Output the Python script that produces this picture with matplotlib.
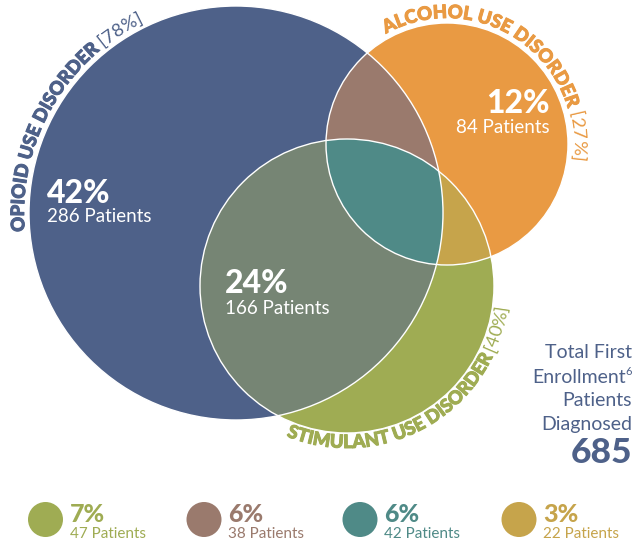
import numpy as np
import matplotlib
matplotlib.use("Agg")
import matplotlib.pyplot as plt
import matplotlib.patheffects as pe
from matplotlib.patches import Circle, Polygon
from matplotlib import font_manager, ft2font
from matplotlib.font_manager import FontProperties

# ---------------- data ----------------
set_names = ["OPIOID USE DISORDER", "ALCOHOL USE DISORDER", "STIMULANT USE DISORDER"]
set_pct = [78, 27, 40]
region_keys = ["O", "A", "S", "OA", "OS", "AS", "OAS"]
region_pct = [42, 12, 7, 6, 24, 3, 6]
region_n = [286, 84, 47, 38, 166, 22, 42]
total_patients = 685
total_label = ["Total First", "Enrollment", "Patients", "Diagnosed"]
footnote = "6"
legend_keys = ["S", "OA", "OAS", "AS"]

colors = {
    "O": "#4e6189", "A": "#e99a43", "S": "#9fac53",
    "OA": "#9a7a6d", "OS": "#768574", "AS": "#c6a44b", "OAS": "#4f8a87",
}
pct = dict(zip(region_keys, region_pct))
cnt = dict(zip(region_keys, region_n))

# ---------------- layout (pixels, y down) ----------------
W, H = 637, 543
cO, rO = (236.0, 213.0), 207.0
cA, rA = (447.0, 144.0), 121.0
cS, rS = (347.0, 286.0), 147.0

fig = plt.figure(figsize=(W / 100, H / 100), dpi=100)
ax = fig.add_axes([0, 0, 1, 1])
ax.set_xlim(0, W)
ax.set_ylim(H, 0)
ax.axis("off")

FAM = ["Lato", "DejaVu Sans"]


def fp(size, weight="normal"):
    return FontProperties(family=FAM, size=size, weight=weight)


def lens(c1, r1, c2, r2, n=300):
    c1 = np.array(c1); c2 = np.array(c2)
    dv = c2 - c1
    d = np.hypot(*dv)
    a = (r1 ** 2 - r2 ** 2 + d ** 2) / (2 * d)
    alpha = np.arccos(np.clip(a / r1, -1, 1))
    beta = np.arccos(np.clip((d - a) / r2, -1, 1))
    th = np.arctan2(dv[1], dv[0])
    ph = th + np.pi
    t1 = np.linspace(th - alpha, th + alpha, n)
    t2 = np.linspace(ph - beta, ph + beta, n)
    p1 = np.column_stack([c1[0] + r1 * np.cos(t1), c1[1] + r1 * np.sin(t1)])
    p2 = np.column_stack([c2[0] + r2 * np.cos(t2), c2[1] + r2 * np.sin(t2)])
    return np.vstack([p1, p2])


# base circles
ax.add_patch(Circle(cO, rO, facecolor=colors["O"], edgecolor="none", zorder=1))
ax.add_patch(Circle(cA, rA, facecolor=colors["A"], edgecolor="none", zorder=1))
ax.add_patch(Circle(cS, rS, facecolor=colors["S"], edgecolor="none", zorder=1))
# pairwise overlaps
ax.add_patch(Polygon(lens(cO, rO, cA, rA), closed=True, facecolor=colors["OA"], edgecolor="none", zorder=2))
ax.add_patch(Polygon(lens(cO, rO, cS, rS), closed=True, facecolor=colors["OS"], edgecolor="none", zorder=2))
ax.add_patch(Polygon(lens(cA, rA, cS, rS), closed=True, facecolor=colors["AS"], edgecolor="none", zorder=2))
# triple overlap
clipO = Circle(cO, rO, transform=ax.transData)
triple = Polygon(lens(cA, rA, cS, rS), closed=True, facecolor=colors["OAS"], edgecolor="none", zorder=3)
ax.add_patch(triple)
triple.set_clip_path(clipO)
# white outlines
for c, r in [(cO, rO), (cA, rA), (cS, rS)]:
    ax.add_patch(Circle(c, r, fill=False, edgecolor="white", lw=1.0, zorder=4))


# ---------------- curved labels ----------------
def advances(s, prop):
    path = font_manager.findfont(prop)
    f = ft2font.FT2Font(path)
    f.set_size(prop.get_size_in_points(), 100)
    try:
        flags = ft2font.LoadFlags.NO_HINTING
    except AttributeError:
        flags = ft2font.LOAD_NO_HINTING
    out = []
    for ch in s:
        g = f.load_char(ord(ch), flags=flags)
        out.append(g.linearHoriAdvance / 65536.0)
    return out


def arc_text(segments, center, R, t0_deg, direction):
    cx, cy = center
    s = 0.0
    t0 = np.radians(t0_deg)
    for text, prop, color, stroke in segments:
        adv = advances(text, prop)
        for ch, a in zip(text, adv):
            mid = s + a / 2
            t = t0 + direction * mid / R
            x = cx + R * np.cos(t)
            y = cy + R * np.sin(t)
            if direction > 0:
                rot = np.degrees(np.arctan2(-np.cos(t), -np.sin(t)))
            else:
                rot = np.degrees(np.arctan2(np.cos(t), np.sin(t)))
            if ch != " ":
                txt = ax.text(x, y, ch, fontproperties=prop, color=color, rotation=rot,
                              rotation_mode="anchor", ha="center", va="baseline", zorder=5)
                if stroke:
                    txt.set_path_effects([pe.withStroke(linewidth=stroke, foreground=color)])
            s += a


LBL = 13.3
BW = "black"
arc_text([(set_names[0] + " ", fp(LBL, BW), colors["O"], 0.7),
          (f"[{set_pct[0]}%]", fp(LBL, "normal"), colors["O"], 0)],
         cO, rO + 5, 175.0, +1)
arc_text([(set_names[1] + " ", fp(LBL, BW), colors["A"], 0.7),
          (f"[{set_pct[1]}%]", fp(LBL, "normal"), colors["A"], 0)],
         cA, rA + 5, 241.0, +1)
arc_text([(set_names[2] + " ", fp(LBL, BW), colors["S"], 0.7),
          (f"[{set_pct[2]}%]", fp(LBL, "normal"), colors["S"], 0)],
         cS, rS + 15, 112.0, -1)

# ---------------- region labels ----------------
BIG, SMALL = 23, 13.5
ax.text(47, 203, f"{pct['O']}%", fontproperties=fp(BIG, "black"), color="white", ha="left", va="baseline", zorder=6)
ax.text(47, 222, f"{cnt['O']} Patients", fontproperties=fp(SMALL), color="white", ha="left", va="baseline", zorder=6)
ax.text(550, 113, f"{pct['A']}%", fontproperties=fp(BIG, "black"), color="white", ha="right", va="baseline", zorder=6)
ax.text(550, 133, f"{cnt['A']} Patients", fontproperties=fp(SMALL), color="white", ha="right", va="baseline", zorder=6)
ax.text(225, 293, f"{pct['OS']}%", fontproperties=fp(BIG, "black"), color="white", ha="left", va="baseline", zorder=6)
ax.text(225, 314, f"{cnt['OS']} Patients", fontproperties=fp(SMALL), color="white", ha="left", va="baseline", zorder=6)

# ---------------- total block ----------------
TX = 632
tcol = colors["O"]
ax.text(TX, 358, total_label[0], fontproperties=fp(14), color=tcol, ha="right", va="baseline")
sup_w = sum(advances(footnote, fp(8)))
ax.text(TX - sup_w, 383, total_label[1], fontproperties=fp(14), color=tcol, ha="right", va="baseline")
ax.text(TX - sup_w, 375, footnote, fontproperties=fp(8), color=tcol, ha="left", va="baseline")
ax.text(TX, 406, total_label[2], fontproperties=fp(14), color=tcol, ha="right", va="baseline")
ax.text(TX, 430, total_label[3], fontproperties=fp(14), color=tcol, ha="right", va="baseline")
ax.text(TX, 463, f"{total_patients}", fontproperties=fp(25.5, "black"), color=tcol, ha="right", va="baseline")

# ---------------- legend ----------------
leg_x = [45.5, 204.0, 360.0, 519.0]
for k, lx in zip(legend_keys, leg_x):
    ax.add_patch(Circle((lx, 519.5), 17.5, facecolor=colors[k], edgecolor="none"))
    ax.text(lx + 24, 522, f"{pct[k]}%", fontproperties=fp(18, "black"), color=colors[k], ha="left", va="baseline")
    ax.text(lx + 24, 538, f"{cnt[k]} Patients", fontproperties=fp(11), color=colors[k], ha="left", va="baseline")

fig.savefig("out.png", dpi=100)
